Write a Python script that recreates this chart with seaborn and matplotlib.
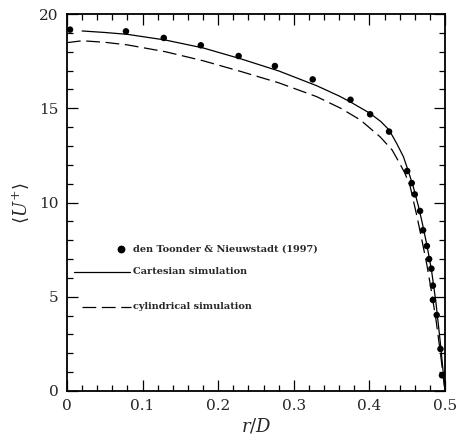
import matplotlib
matplotlib.use("Agg")
import matplotlib.pyplot as plt
from matplotlib.ticker import MultipleLocator
import seaborn as sns
import pandas as pd

# Experimental data: den Toonder & Nieuwstadt (1997)
exp_r = [0.004, 0.078, 0.128, 0.177, 0.227, 0.275, 0.325, 0.375, 0.401, 0.426,
         0.450, 0.456, 0.460, 0.467, 0.471, 0.476, 0.479, 0.482, 0.484, 0.484,
         0.489, 0.494, 0.496]
exp_u = [19.17, 19.08, 18.73, 18.34, 17.77, 17.24, 16.53, 15.45, 14.68, 13.76,
         11.67, 11.03, 10.43, 9.55, 8.53, 7.69, 7.00, 6.49, 5.59, 4.83,
         4.03, 2.23, 0.83]

# Cartesian simulation profile
cart_r = [0.02, 0.05, 0.08, 0.13, 0.18, 0.23, 0.28, 0.33, 0.36, 0.375, 0.40,
          0.415, 0.426, 0.436, 0.445, 0.451, 0.458, 0.465, 0.470, 0.476,
          0.482, 0.488, 0.494, 0.500]
cart_u = [19.10, 19.02, 18.92, 18.62, 18.20, 17.62, 16.98, 16.20, 15.65, 15.33,
          14.75, 14.30, 13.85, 13.14, 12.43, 11.72, 10.84, 9.78, 8.90, 7.75,
          6.45, 4.70, 2.50, 0.00]

# Cylindrical simulation profile
cyl_r = [0.0, 0.02, 0.05, 0.08, 0.13, 0.18, 0.23, 0.28, 0.33, 0.362, 0.388,
         0.414, 0.430, 0.440, 0.447, 0.454, 0.463, 0.470, 0.476, 0.482,
         0.488, 0.494, 0.500]
cyl_u = [18.48, 18.58, 18.50, 18.36, 18.00, 17.52, 16.95, 16.35, 15.62, 15.00,
         14.38, 13.49, 12.79, 12.08, 11.55, 10.84, 9.25, 7.90, 6.70, 5.30,
         3.80, 2.00, 0.00]

x_ticks = [0, 0.1, 0.2, 0.3, 0.4, 0.5]
x_tick_labels = ["0", "0.1", "0.2", "0.3", "0.4", "0.5"]
y_ticks = [0, 5, 10, 15, 20]

legend_labels = ["den Toonder & Nieuwstadt (1997)",
                 "Cartesian simulation",
                 "cylindrical simulation"]

sns.set_style("ticks")
plt.rcParams["font.family"] = ["DejaVu Serif"]
plt.rcParams["mathtext.fontset"] = "dejavuserif"

fig = plt.figure(figsize=(4.6, 4.46), dpi=100)
ax = fig.add_axes([67 / 460, 1 - 391 / 446, 378 / 460, 377 / 446])

exp_df = pd.DataFrame({"r": exp_r, "u": exp_u})
cart_df = pd.DataFrame({"r": cart_r, "u": cart_u})
cyl_df = pd.DataFrame({"r": cyl_r, "u": cyl_u})

dash = (11, 4.5)
sns.lineplot(data=cart_df, x="r", y="u", ax=ax, color="black", lw=0.9,
             sort=False, estimator=None)
sns.lineplot(data=cyl_df, x="r", y="u", ax=ax, color="black", lw=0.9,
             sort=False, estimator=None)
ax.lines[-1].set_dashes(dash)
sns.scatterplot(data=exp_df, x="r", y="u", ax=ax, color="black", s=22,
                edgecolor="none", zorder=3)

ax.set_xlim(0, 0.5)
ax.set_ylim(0, 20)
ax.set_xticks(x_ticks)
ax.set_xticklabels(x_tick_labels)
ax.set_yticks(y_ticks)
ax.xaxis.set_minor_locator(MultipleLocator(0.02))
ax.yaxis.set_minor_locator(MultipleLocator(1))
ax.tick_params(which="both", direction="in", top=True, right=True,
               width=0.9, color="black")
ax.tick_params(which="major", length=8, labelsize=11, pad=6)
ax.tick_params(which="minor", length=4)
for sp in ax.spines.values():
    sp.set_linewidth(1.3)
    sp.set_color("black")

ax.set_xlabel(r"$r/D$", fontsize=13, labelpad=2)
ax.set_ylabel(r"$\langle U^{+}\rangle$", fontsize=13, labelpad=6)

# Legend drawn inside the axes
tr = ax.transAxes
ax.plot([0.142], [0.377], "o", color="black", ms=4.6, transform=tr,
        clip_on=False)
ax.plot([0.018, 0.167], [0.316, 0.316], color="black", lw=0.9, transform=tr)
leg_dash, = ax.plot([0.039, 0.168], [0.224, 0.224], color="black", lw=0.9,
                    transform=tr)
leg_dash.set_dashes(dash)
for yy, txt in zip([0.377, 0.316, 0.224], legend_labels):
    ax.text(0.174, yy, txt, transform=tr, fontsize=7, fontweight="bold",
            va="center", ha="left")

fig.savefig("out.png", dpi=100)
